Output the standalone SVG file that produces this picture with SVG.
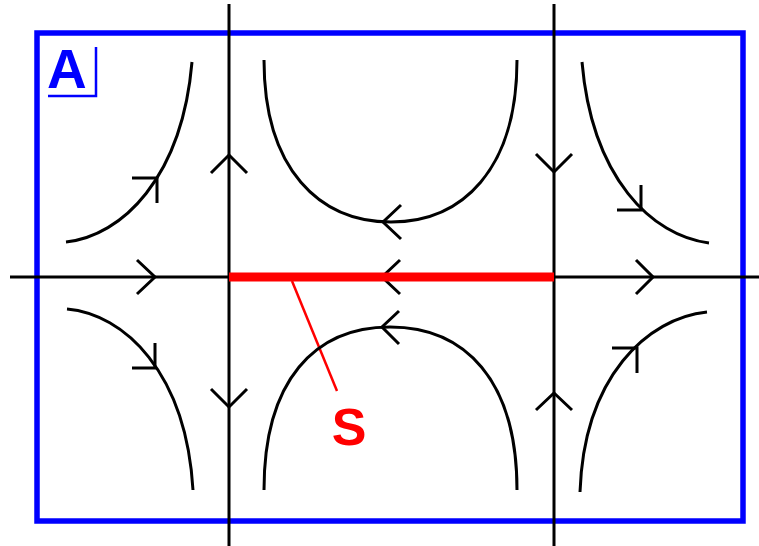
<svg xmlns="http://www.w3.org/2000/svg" width="759" height="546" viewBox="0 0 759 546">
<style>
.ln{fill:none;stroke:#000;stroke-width:3;}
.ah{fill:none;stroke:#000;stroke-width:3;stroke-linecap:butt;stroke-linejoin:miter;}
.box{fill:none;stroke:#0000ff;stroke-width:5.5;}
.lbl{font-family:"Liberation Sans",Arial,sans-serif;font-weight:bold;}
</style>
<rect width="759" height="546" fill="#fff"/>
<g id="frame">
<rect class="box" x="37" y="33" width="706" height="488"/>
<g id="label-A">
<text class="lbl" x="47" y="88" font-size="55" fill="#0000ff">A</text>
<polyline points="48,96 96,96 96,47" fill="none" stroke="#0000ff" stroke-width="2.5"/>
</g>
</g>
<g id="connectors">
<line class="ln" x1="229" y1="4" x2="229" y2="546"/>
<line class="ln" x1="554" y1="4" x2="554" y2="546"/>
<line class="ln" x1="10" y1="277" x2="759" y2="277"/>
<polyline class="ah" points="137,260 155,277 137,294"/>
<polyline class="ah" points="400,260 382,277 400,294"/>
<polyline class="ah" points="636,260 653,277 636,294"/>
<polyline class="ah" points="211,173 229,155 247,173"/>
<polyline class="ah" points="211,389 229,407 247,389"/>
<polyline class="ah" points="536,154 554,172 572,154"/>
<polyline class="ah" points="536,410 554,393 572,410"/>
</g>
<g id="separatrix">
<line x1="229" y1="277" x2="554" y2="277" stroke="#ff0000" stroke-width="9"/>
<line x1="292" y1="281" x2="337" y2="391" stroke="#ff0000" stroke-width="2.5"/>
<text class="lbl" x="349" y="445" font-size="52" fill="#ff0000" text-anchor="middle">S</text>
</g>
<g id="curve-top-left">
<path class="ln" d="M66,242 C122,236 182,178 192,62"/>
<polyline class="ah" points="132,178 157,178 157,203"/>
</g>
<g id="curve-top-right">
<path class="ln" d="M582,62 C592,178 652,236 709,243"/>
<polyline class="ah" points="617,210 641,210 641,185"/>
</g>
<g id="curve-bottom-left">
<path class="ln" d="M67,309 C124,314 186,372 193,490"/>
<polyline class="ah" points="132,368 155,368 155,343"/>
</g>
<g id="curve-bottom-right">
<path class="ln" d="M580,492 C584,376 648,318 707,312"/>
<polyline class="ah" points="612,348 637,348 637,373"/>
</g>
<g id="curve-top-middle">
<path class="ln" d="M264,60 C264,170 320,222 391,222 C462,222 517,170 517,60"/>
<polyline class="ah" points="401,205 383,222 401,239"/>
</g>
<g id="curve-bottom-middle">
<path class="ln" d="M264,490 C264,380 315,327 390,327 C465,327 517,380 517,490"/>
<polyline class="ah" points="399,311 382,327 399,344"/>
</g>
</svg>
